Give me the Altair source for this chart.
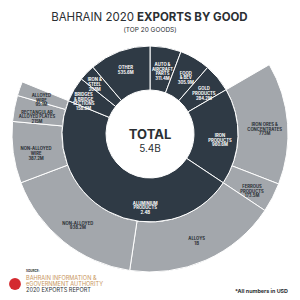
import altair as alt
import pandas as pd

# ---------------- data ----------------
inner_names = ["AUTO &\nAIRCRAFT\nPARTS", "FOOD\n& BEV", "GOLD\nPRODUCTS", "IRON\nPRODUCTS",
               "ALUMINIUM\nPRODUCTS", "BRIDGES\n& BRIDGE\nSECTIONS", "IRON &\nSTEEL", "OTHER"]
inner_labels = ["311.4M", "305.9M", "284.2M", "960.6M", "2.4B", "158.6M", "208M", "535.6M"]
inner_values = [310, 305, 285, 960, 2535, 249, 162, 609]

outer_names = ["", "IRON ORES &\nCONCENTRATES", "FERROUS\nPRODUCTS", "ALLOYS", "NON-ALLOYED",
               "NON-ALLOYED\nWIRE", "RECTANGULAR\nALLOYED PLATES", "ALLOYED\nWIRE", ""]
outer_labels = ["", "773M", "173.5M", "1B", "938.2M", "387.2M", "215M", "95.1M", ""]
outer_values = [900, 773, 187, 975, 915, 390, 165, 90, 1020]
outer_kind = ["gap", "seg", "seg", "seg", "seg", "seg", "seg", "seg", "gap"]

total_label = "5.4B"

# ---------------- style ----------------
CX, CY = 150, 134
R_HOLE, R_DARK, R_OUT = 44, 88, 138
DARK = "#2f3a45"
GREY = "#a3a7ac"
FONT = "Inter"
FS, LH = 4.2, 4.6

inner = pd.DataFrame({"idx": list(range(len(inner_values))), "value": inner_values,
                      "name": inner_names, "label": inner_labels})
outer = pd.DataFrame({"idx": list(range(len(outer_values))), "value": outer_values,
                      "kind": outer_kind, "name": outer_names, "label": outer_labels})

theta = alt.Theta("value:Q", stack=True)
order = alt.Order("idx:Q", sort="ascending")
pos = dict(x=alt.value(CX), y=alt.value(CY))

inner_base = alt.Chart(inner)
outer_base = alt.Chart(outer)

inner_arc = inner_base.mark_arc(fill=DARK, stroke="white", strokeWidth=1).encode(
    theta=theta, order=order, radius=alt.value(R_DARK), radius2=alt.value(R_HOLE), **pos)

outer_arc = outer_base.mark_arc(fill=GREY, stroke="white", strokeWidth=1).encode(
    theta=theta, order=order, radius=alt.value(R_OUT), radius2=alt.value(R_DARK),
    opacity=alt.condition("datum.kind == 'gap'", alt.value(0), alt.value(1)),
    **pos)


def labels(base, test, radius, color, theta_off=0.0):
    b = base.transform_calculate(
        t=f"({test}) ? datum.name + '\\n' + datum.label : ''")
    return b.mark_text(fill=color, fontWeight="bold", baseline="middle", font=FONT, fontSize=FS,
                       lineHeight=LH, align="center", lineBreak="\n", radius=radius,
                       thetaOffset=theta_off).encode(theta=theta, order=order, text="t:N", **pos)


layers_txt = [
    labels(inner_base, "datum.idx != 4 && datum.idx != 5 && datum.idx != 6", 70, "white"),
    labels(inner_base, "datum.idx == 5 || datum.idx == 6", 77, "white"),
    labels(inner_base, "datum.idx == 4", 70, "white", theta_off=-0.42),
    labels(outer_base, "datum.kind == 'seg'", 115, "#2a2f35"),
]


def note(text, x, y, size, weight="normal", color="#2b2f33", align="center", baseline="middle", font=FONT):
    return alt.Chart(pd.DataFrame({"t": [text]})).mark_text(
        font=font, fontSize=size, fontWeight=weight, fill=color, align=align, baseline=baseline
    ).encode(text="t:N", x=alt.value(x), y=alt.value(y))


title_a = note("BAHRAIN 2020", 134, 18, 11.5, align="right")
title_b = note("EXPORTS BY GOOD", 137, 18, 11.5, weight="bold", align="left")
subtitle = note("(TOP 20 GOODS)", 150, 30, 6.5)
tot_a = note("TOTAL", 150, 135, 13, weight="bold")
tot_b = note(total_label, 150, 149, 10)

src = note("SOURCE:", 26, 271, 3, weight="bold", align="left")
f1 = note("BAHRAIN INFORMATION &", 26, 277.5, 5.6, color="#c8955c", align="left")
f2 = note("eGOVERNMENT AUTHORITY", 26, 283.5, 5.6, color="#c8955c", align="left")
f3 = note("2020 EXPORTS REPORT", 26, 289.5, 5.6, align="left")
usd = note("*All numbers in USD", 288, 291, 5.4, weight="bold", align="right")

logo = alt.Chart(pd.DataFrame({"t": [1]})).mark_point(
    filled=True, fill="#d42a2f", opacity=1, size=140, shape="circle"
).encode(x=alt.value(15), y=alt.value(284))

chart = alt.layer(
    outer_arc, inner_arc, *layers_txt,
    title_a, title_b, subtitle, tot_a, tot_b, src, f1, f2, f3, usd, logo
).properties(
    width=300, height=300, autosize=alt.AutoSizeParams(type="none"), padding=0, background="white"
).configure_view(stroke=None)

chart.save("out.html", embed_options={"renderer": "svg", "actions": False})
